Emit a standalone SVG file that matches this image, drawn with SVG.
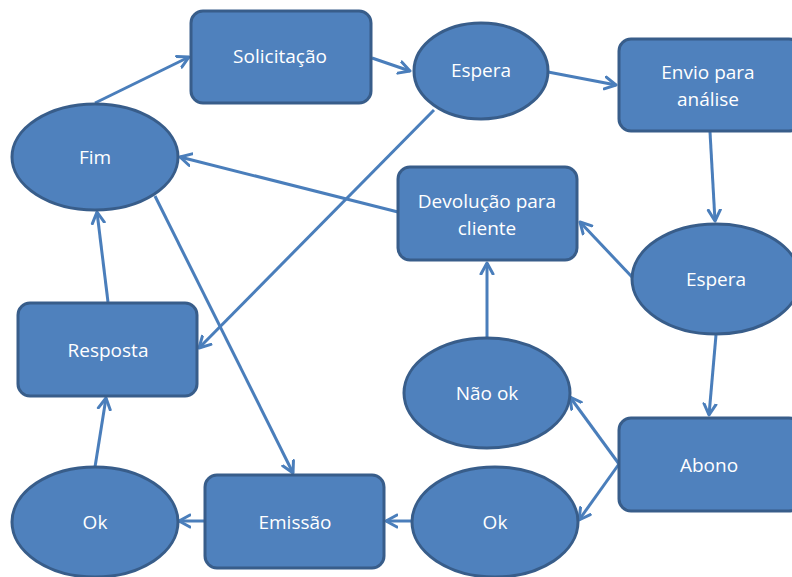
<svg xmlns="http://www.w3.org/2000/svg" width="792" height="577" viewBox="0 0 792 577">
<defs>
<style>
.n{fill:#4F81BD;stroke:#385D8A;stroke-width:3}
.t{fill:#FFFFFF;font-family:"Open Sans","Liberation Sans",sans-serif;font-size:19px;text-anchor:middle;dominant-baseline:central}
.c line{stroke:#4A7EBB;stroke-width:3;fill:none;marker-end:url(#a)}
</style>
<marker id="a" markerUnits="userSpaceOnUse" markerWidth="16" markerHeight="16" refX="12" refY="7" orient="auto" viewBox="0 0 16 14">
<path d="M1,1 L12,7 L1,13" fill="none" stroke="#4A7EBB" stroke-width="3" stroke-linecap="round" stroke-linejoin="round"/>
</marker>
</defs>
<rect width="792" height="577" fill="#FFFFFF"/>
<g class="c">
<line x1="95" y1="103" x2="189" y2="57"/>
<line x1="372" y1="58" x2="410" y2="71"/>
<line x1="548" y1="72" x2="616" y2="85"/>
<line x1="710" y1="132" x2="715" y2="221"/>
<line x1="632" y1="277" x2="580" y2="222"/>
<line x1="716" y1="335" x2="709" y2="415"/>
<line x1="619" y1="464" x2="570" y2="397"/>
<line x1="619" y1="464" x2="579" y2="520"/>
<line x1="398" y1="212" x2="180" y2="157"/>
<line x1="434" y1="110" x2="199" y2="348"/>
<line x1="155" y1="196" x2="293" y2="473"/>
<line x1="487" y1="338" x2="487" y2="263"/>
<line x1="411" y1="521" x2="386" y2="521"/>
<line x1="204" y1="521" x2="179" y2="521"/>
<line x1="95" y1="467" x2="106" y2="398"/>
<line x1="108" y1="302" x2="97" y2="212"/>
</g>
<g id="solicitacao"><rect class="n" x="191" y="11" width="180" height="92" rx="12"/><text class="t" x="280" y="56">Solicitação</text></g>
<g id="espera1"><ellipse class="n" cx="481" cy="71" rx="67" ry="48"/><text class="t" x="481" y="70">Espera</text></g>
<g id="envio"><rect class="n" x="619" y="39" width="182" height="92" rx="12"/><text class="t" x="708" y="72">Envio para</text><text class="t" x="708" y="99">análise</text></g>
<g id="fim"><ellipse class="n" cx="95" cy="157" rx="83" ry="53"/><text class="t" x="95" y="157">Fim</text></g>
<g id="devolucao"><rect class="n" x="398" y="167" width="179" height="93" rx="12"/><text class="t" x="487" y="201">Devolução para</text><text class="t" x="487" y="228">cliente</text></g>
<g id="espera2"><ellipse class="n" cx="716" cy="279" rx="84" ry="55"/><text class="t" x="716" y="279">Espera</text></g>
<g id="resposta"><rect class="n" x="18" y="303" width="179" height="93" rx="12"/><text class="t" x="108" y="350">Resposta</text></g>
<g id="naook"><ellipse class="n" cx="487" cy="393" rx="83" ry="55"/><text class="t" x="487" y="393">Não ok</text></g>
<g id="abono"><rect class="n" x="619" y="418" width="182" height="93" rx="12"/><text class="t" x="709" y="465">Abono</text></g>
<g id="ok1"><ellipse class="n" cx="95" cy="522" rx="83" ry="55"/><text class="t" x="95" y="522">Ok</text></g>
<g id="emissao"><rect class="n" x="205" y="475" width="179" height="93" rx="12"/><text class="t" x="295" y="522">Emissão</text></g>
<g id="ok2"><ellipse class="n" cx="495" cy="522" rx="83" ry="55"/><text class="t" x="495" y="522">Ok</text></g>
</svg>
